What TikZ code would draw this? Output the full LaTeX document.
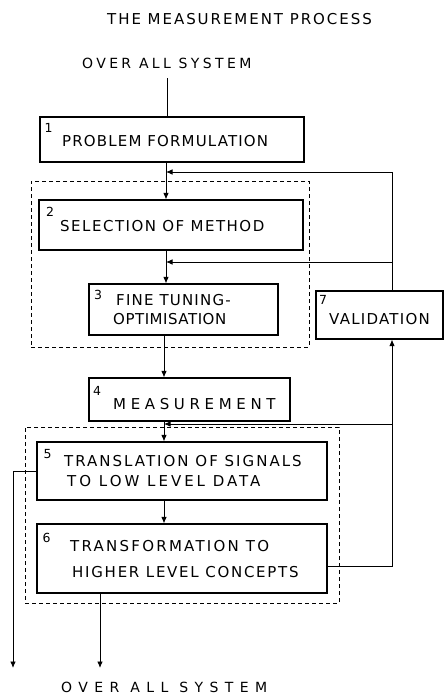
\documentclass[tikz,border=0pt]{standalone}
\usepackage{fontspec}
\setmainfont{DejaVu Sans}
\usetikzlibrary{arrows.meta}
% letter-spaced text: #1 = tracking in percent of the font size
\newcommand\spaced[2]{{\addfontfeature{LetterSpace=#1}#2}}

\begin{document}
\begin{tikzpicture}[x=1pt,y=-1pt,
  box/.style={draw, line width=1.1pt, inner sep=0pt},
  grp/.style={draw, line width=0.9pt, dash pattern=on 4pt off 3pt, inner sep=0pt},
  lbl/.style={anchor=west, inner sep=0pt, font=\fontsize{15}{15}\selectfont},
  ttl/.style={anchor=west, inner sep=0pt, font=\fontsize{14}{14}\selectfont},
  num/.style={anchor=center, inner sep=0pt, font=\fontsize{12.5}{12.5}\selectfont},
  link/.style={line width=0.9pt},
  arr/.style={line width=0.9pt, -{Latex[length=6.5pt,width=5.5pt]}}]
\useasboundingbox (0,0) rectangle (444,694);

% title and system inputs/outputs
\node[lbl] (title) at (107,19) {\spaced{13}{THE MEASUREMENT PROCESS}};
\node[ttl] (sysin) at (82,63) {\spaced{24}{OVER ALL SYSTEM}};
\node[ttl] (sysout) at (61,687) {\spaced{46}{OVER ALL SYSTEM}};

% dashed groupings
\node[grp, minimum width=278pt, minimum height=166pt] (g1) at (170,264) {};
\node[grp, minimum width=314pt, minimum height=176pt] (g2) at (182,515) {};

% process boxes
\node[box, minimum width=264pt, minimum height=45pt] (b1) at (172,139.5) {};
\node[box, minimum width=264pt, minimum height=50pt] (b2) at (171,225) {};
\node[box, minimum width=189pt, minimum height=51pt] (b3) at (183.5,309.5) {};
\node[box, minimum width=201pt, minimum height=43pt] (b4) at (189.5,399.5) {};
\node[box, minimum width=290pt, minimum height=58pt] (b5) at (182,471) {};
\node[box, minimum width=290pt, minimum height=69pt] (b6) at (182,558.5) {};
\node[box, minimum width=127pt, minimum height=48pt] (b7) at (379.5,315) {};

% box numbers
\node[num] (n1) at (48.5,127.5) {1};
\node[num] (n2) at (50,211.5) {2};
\node[num] (n3) at (98,295) {3};
\node[num] (n4) at (97,391) {4};
\node[num] (n5) at (47.5,454) {5};
\node[num] (n6) at (46.5,537.5) {6};
\node[num] (n7) at (323,300) {7};

% box texts
\node[lbl] (t1) at (62,141) {\spaced{7.7}{PROBLEM FORMULATION}};
\node[lbl] (t2) at (60,226) {\spaced{10}{SELECTION OF METHOD}};
\node[lbl] (t3a) at (116,300.5) {\spaced{8}{FINE TUNING-}};
\node[lbl] (t3b) at (113,319) {\spaced{3.5}{OPTIMISATION}};
\node[lbl] (t4) at (113,404) {\spaced{31}{MEASUREMENT}};
\node[lbl] (t5a) at (64,461.5) {\spaced{13.4}{TRANSLATION OF SIGNALS}};
\node[lbl] (t5b) at (67,481.5) {\spaced{20}{TO LOW LEVEL DATA}};
\node[lbl] (t6a) at (70,546) {\spaced{15}{TRANSFORMATION TO}};
\node[lbl] (t6b) at (72,572.5) {\spaced{11.6}{HIGHER LEVEL CONCEPTS}};
\node[lbl] (t7) at (329,319) {\spaced{8.4}{VALIDATION}};

% guide coordinates
\coordinate (top) at (167,78);
\coordinate (sA) at (166,0);
\coordinate (sB) at (164,0);
\coordinate (v) at (392,0);
\coordinate (f1) at (0,172);
\coordinate (f2) at (0,262);
\coordinate (f3) at (0,424);
\coordinate (f4) at (0,566);
\coordinate (outL) at (13,668);
\coordinate (outB) at (100,668);

% main flow
\draw[link] (top) -- (top |- b1.north);
\draw[arr] (sA |- b1.south) -- (sA |- b2.north);
\draw[arr] (sA |- b2.south) -- (sA |- b3.north);
\draw[arr] (sB |- b3.south) -- (sB |- b4.north);
\draw[arr] (sB |- b4.south) -- (sB |- b5.north);
\draw[arr] (sB |- b5.south) -- (sB |- b6.north);

% validation loop and feedback
\draw[arr] (b6.east |- f4) -- (v |- f4) -- (v |- b7.south);
\draw[arr] (v |- f4) -- (v |- f3) -- (sB |- f3);
\draw[arr] (v |- b7.north) -- (v |- f1) -- (sA |- f1);
\draw[arr] (v |- f2) -- (sA |- f2);

% outputs
\draw[arr] (b5.west) -- (outL |- b5.west) -- (outL);
\draw[arr] (outB |- b6.south) -- (outB);
\end{tikzpicture}
\end{document}
